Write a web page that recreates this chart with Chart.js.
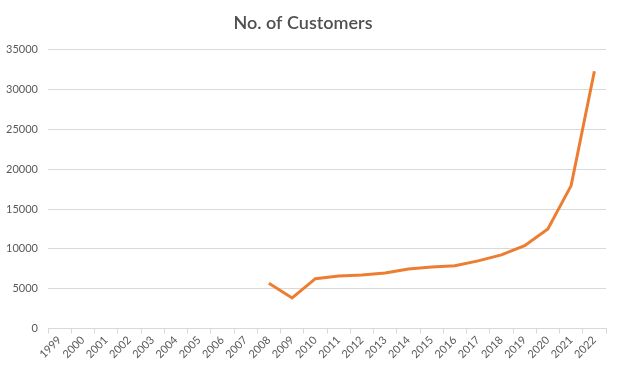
<!DOCTYPE html>
<html>
<head>
<meta charset="utf-8">
<script src="https://cdn.jsdelivr.net/npm/chart.js@4"></script>
<style>
  body { margin: 0; background: #fff; }
</style>
</head>
<body>
<canvas id="chart" width="619" height="367"></canvas>
<script>
var years = ["1999", "2000", "2001", "2002", "2003", "2004", "2005", "2006", "2007", "2008",
  "2009", "2010", "2011", "2012", "2013", "2014", "2015", "2016", "2017", "2018",
  "2019", "2020", "2021", "2022"];
var customers = [null, null, null, null, null, null, null, null, null, 5680,
  3850, 6270, 6610, 6740, 6990, 7490, 7740, 7900, 8500, 9250,
  10400, 12500, 17940, 32280];
var yTicks = [0, 5000, 10000, 15000, 20000, 25000, 30000, 35000];

var textColor = "#595959";
var gridColor = "#d9d9d9";

var ctx = document.getElementById("chart").getContext("2d");
var chart = new Chart(ctx, {
  type: "line",
  data: {
    labels: years,
    datasets: [{
      label: "No. of Customers",
      data: customers,
      borderColor: "#ed7d31",
      borderWidth: 3,
      pointRadius: 0,
      tension: 0,
      spanGaps: false
    }]
  },
  options: {
    responsive: false,
    animation: false,
    layout: { padding: { left: 0, right: 13, top: 0, bottom: 6 } },
    plugins: {
      legend: { display: false },
      tooltip: { enabled: false },
      title: {
        display: true,
        text: "No. of Customers",
        color: "#505050",
        font: { family: "Lato", size: 18, weight: "600" },
        padding: { top: 12, bottom: 16 }
      }
    },
    scales: {
      x: {
        offset: true,
        grid: {
          offset: true,
          drawOnChartArea: false,
          drawTicks: true,
          tickLength: 5,
          color: gridColor
        },
        border: { color: gridColor },
        ticks: {
          color: textColor,
          font: { family: "Lato", size: 11 },
          minRotation: 45,
          maxRotation: 45,
          autoSkip: false,
          padding: 0
        }
      },
      y: {
        min: 0,
        max: 35000,
        afterBuildTicks: function (scale) {
          scale.ticks = yTicks.map(function (v) { return { value: v }; });
        },
        afterFit: function (scale) { scale.width = 48; },
        grid: { color: gridColor, drawTicks: false },
        border: { display: false },
        ticks: {
          color: textColor,
          font: { family: "Lato", size: 11 },
          padding: 10,
          callback: function (value) { return String(value); }
        }
      }
    }
  }
});
</script>
</body>
</html>
